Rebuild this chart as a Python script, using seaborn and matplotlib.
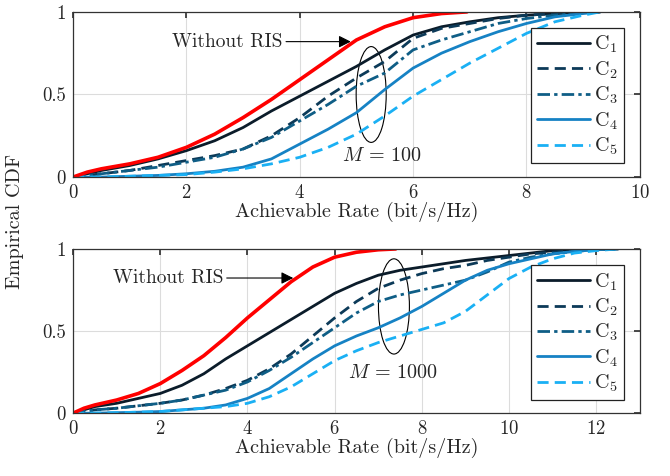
import numpy as np
import pandas as pd
import matplotlib
matplotlib.use("Agg")
import matplotlib.pyplot as plt
from matplotlib.patches import Ellipse
import seaborn as sns

# ---- data ----
# top panel, M = 100
top_red_x = [0, 0.25, 0.5, 1, 1.5, 2, 2.5, 3, 3.5, 4, 4.5, 5, 5.5, 6, 6.5, 6.95]
top_red_y = [0, 0.03, 0.05, 0.08, 0.12, 0.18, 0.26, 0.36, 0.47, 0.59, 0.71, 0.83, 0.91, 0.965, 0.99, 1.0]

top_x = [0, 0.5, 1, 1.5, 2, 2.5, 3, 3.5, 4, 4.5, 5, 5.5, 6, 6.5, 7, 7.5, 8, 8.5, 9, 9.3]
top_c1 = [0, 0.04, 0.07, 0.11, 0.16, 0.22, 0.30, 0.40, 0.49, 0.58, 0.67, 0.77, 0.86, 0.91, 0.94, 0.965, 0.98, 0.99, 0.997, 1.0]
top_c2 = [0, 0.02, 0.04, 0.07, 0.10, 0.13, 0.17, 0.25, 0.36, 0.49, 0.60, 0.70, 0.84, 0.90, 0.93, 0.96, 0.98, 0.99, 0.997, 1.0]
top_c3 = [0, 0.02, 0.04, 0.06, 0.09, 0.12, 0.17, 0.24, 0.34, 0.44, 0.55, 0.63, 0.77, 0.83, 0.88, 0.93, 0.96, 0.98, 0.995, 1.0]
top_c4 = [0, 0.0, 0.005, 0.01, 0.02, 0.035, 0.06, 0.11, 0.20, 0.29, 0.39, 0.53, 0.66, 0.75, 0.82, 0.88, 0.93, 0.97, 0.99, 1.0]
top_c5 = [0, 0.0, 0.005, 0.01, 0.015, 0.03, 0.05, 0.08, 0.12, 0.18, 0.26, 0.37, 0.49, 0.59, 0.69, 0.78, 0.87, 0.94, 0.98, 1.0]

# bottom panel, M = 1000
bot_red_x = [0, 0.25, 0.5, 1, 1.5, 2, 2.5, 3, 3.5, 4, 4.5, 5, 5.5, 6, 6.5, 7, 7.4]
bot_red_y = [0, 0.03, 0.05, 0.08, 0.12, 0.18, 0.26, 0.35, 0.46, 0.58, 0.69, 0.80, 0.89, 0.95, 0.98, 0.995, 1.0]

bot_x = [0, 0.5, 1, 1.5, 2, 2.5, 3, 3.5, 4, 4.5, 5, 5.5, 6, 6.5, 7, 7.5, 8, 8.5, 9, 9.5, 10, 10.5, 11, 11.5, 12, 12.5]
bot_c1 = [0, 0.04, 0.06, 0.09, 0.12, 0.17, 0.24, 0.33, 0.41, 0.49, 0.57, 0.65, 0.73, 0.79, 0.84, 0.87, 0.89, 0.91, 0.93, 0.945, 0.96, 0.975, 0.99, 0.995, 0.999, 1.0]
bot_c2 = [0, 0.02, 0.03, 0.045, 0.06, 0.08, 0.11, 0.15, 0.20, 0.27, 0.36, 0.47, 0.58, 0.68, 0.76, 0.81, 0.85, 0.88, 0.90, 0.93, 0.95, 0.97, 0.98, 0.99, 0.998, 1.0]
bot_c3 = [0, 0.02, 0.03, 0.045, 0.06, 0.08, 0.11, 0.14, 0.19, 0.26, 0.34, 0.43, 0.52, 0.61, 0.68, 0.72, 0.75, 0.78, 0.81, 0.86, 0.92, 0.95, 0.97, 0.985, 0.995, 1.0]
bot_c4 = [0, 0.0, 0.003, 0.006, 0.01, 0.02, 0.03, 0.05, 0.09, 0.15, 0.24, 0.33, 0.41, 0.47, 0.52, 0.58, 0.65, 0.73, 0.81, 0.87, 0.91, 0.94, 0.97, 0.985, 0.995, 1.0]
bot_c5 = [0, 0.0, 0.003, 0.006, 0.01, 0.02, 0.03, 0.04, 0.06, 0.10, 0.16, 0.24, 0.32, 0.38, 0.43, 0.47, 0.51, 0.55, 0.62, 0.72, 0.82, 0.89, 0.94, 0.975, 0.99, 1.0]

labels = [r"$\mathrm{C}_1$", r"$\mathrm{C}_2$", r"$\mathrm{C}_3$", r"$\mathrm{C}_4$", r"$\mathrm{C}_5$"]
colors = ["#0b1c2a", "#0c3a58", "#0f5e86", "#1682c4", "#1ab0f4"]
styles = ["-", (0, (4, 2.2)), (0, (4.5, 1.5, 1.2, 1.5)), "-", (0, (4, 2.2))]

sns.set_theme(style="white")
plt.rcParams['font.family'] = ['cmr10', 'DejaVu Serif']
plt.rcParams['mathtext.fontset'] = 'cm'
plt.rcParams['axes.unicode_minus'] = False
plt.rcParams['axes.formatter.use_mathtext'] = True

fig = plt.figure(figsize=(6.7, 4.76), dpi=100)
ax_top = fig.add_axes([0.109, 0.628, 0.846, 0.347])
ax_bot = fig.add_axes([0.109, 0.132, 0.846, 0.345])


def draw_panel(ax, red_x, red_y, xs, series, xmax, xticks):
    for ys, lab, col, ls in zip(series, labels, colors, styles):
        sns.lineplot(x=xs, y=ys, ax=ax, color=col, linestyle=ls, linewidth=2.0,
                     label=lab, sort=False)
    sns.lineplot(x=red_x, y=red_y, ax=ax, color="#ff0000", linewidth=2.6, sort=False)
    ax.set_xlim(0, xmax)
    ax.set_ylim(0, 1)
    ax.set_xticks(xticks)
    ax.set_yticks([0, 0.5, 1])
    ax.set_yticklabels(["0", "0.5", "1"])
    ax.grid(True, color="#dcdcdc", linewidth=0.8)
    ax.tick_params(direction="in", top=True, right=True, length=4, labelsize=13.5,
                   color="#333333", pad=5)
    for sp in ax.spines.values():
        sp.set_color("#333333")
        sp.set_linewidth(0.9)
    ax.set_xlabel("Achievable Rate (bit/s/Hz)", fontsize=14.5, labelpad=0)
    ax.set_ylabel("")
    leg = ax.legend(loc="upper right", fontsize=14.5, handlelength=2.6, frameon=True,
                    fancybox=False, borderpad=0.3, labelspacing=0.2,
                    handletextpad=0.2, borderaxespad=0.8)
    leg.get_frame().set_edgecolor("#222222")
    leg.get_frame().set_linewidth(0.9)
    leg.get_frame().set_alpha(1)


draw_panel(ax_top, top_red_x, top_red_y, top_x,
           [top_c1, top_c2, top_c3, top_c4, top_c5], 10, [0, 2, 4, 6, 8, 10])
draw_panel(ax_bot, bot_red_x, bot_red_y, bot_x,
           [bot_c1, bot_c2, bot_c3, bot_c4, bot_c5], 13, [0, 2, 4, 6, 8, 10, 12])

# annotations
ax_top.annotate("Without RIS", xy=(4.9, 0.82), xytext=(3.7, 0.82),
                ha="right", va="center", fontsize=14,
                arrowprops=dict(arrowstyle="-|>", color="black", lw=0.8,
                                mutation_scale=18, shrinkA=0, shrinkB=0))
ax_top.add_patch(Ellipse((5.26, 0.50), 0.53, 0.58, fill=False, edgecolor="black", lw=0.8))
ax_top.text(4.75, 0.13, r"$M\,=\,100$", fontsize=14.5, va="center", ha="left")

ax_bot.annotate("Without RIS", xy=(5.05, 0.823), xytext=(3.45, 0.823),
                ha="right", va="center", fontsize=14,
                arrowprops=dict(arrowstyle="-|>", color="black", lw=0.8,
                                mutation_scale=18, shrinkA=0, shrinkB=0))
ax_bot.add_patch(Ellipse((7.36, 0.65), 0.71, 0.58, fill=False, edgecolor="black", lw=0.8))
ax_bot.text(6.3, 0.245, r"$M\,=\,1000$", fontsize=14.5, va="center", ha="left")

fig.text(0.022, 0.534, "Empirical CDF", rotation=90, fontsize=14.5, va="center", ha="center")

fig.savefig("out.png", dpi=100)
